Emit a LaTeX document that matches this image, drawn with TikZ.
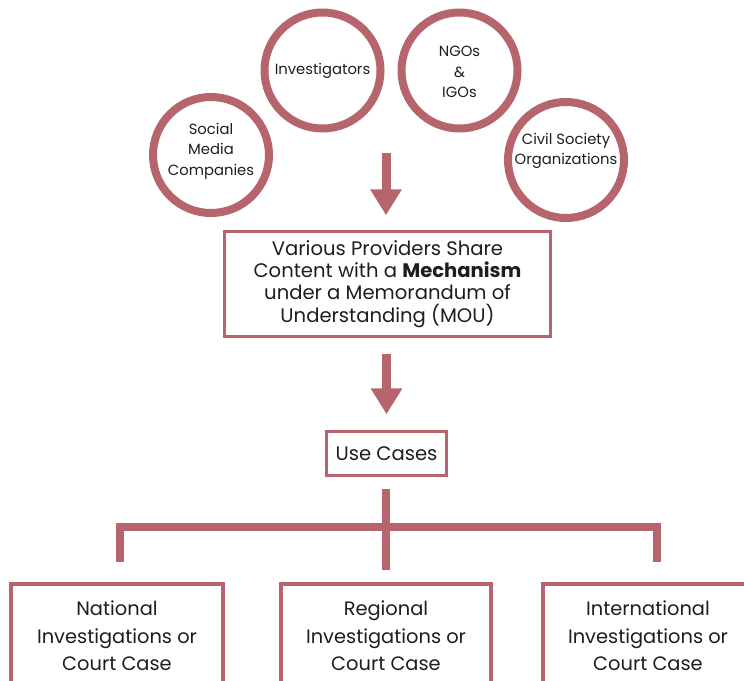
\documentclass[tikz,border=0pt]{standalone}
\usepackage{fontspec}
\setmainfont{Poppins}
\usetikzlibrary{arrows.meta}
\definecolor{rose}{RGB}{181,101,107}
\definecolor{ink}{RGB}{30,30,30}
\tikzset{
  circ/.style={circle, draw=rose, line width=8pt, fill=white, minimum size=116pt,
    inner sep=0pt, text=ink, align=center, font=\fontsize{14.8}{20.5}\selectfont},
  ctext/.style={text=ink, align=center, inner sep=0pt, font=\fontsize{14.8}{20.5}\selectfont},
  box/.style={draw=rose, line width=3.5pt, fill=white, text=ink, align=center, inner sep=0pt},
  btext/.style={font=\fontsize{19.6}{22.2}\selectfont},
  ltext/.style={font=\fontsize{19.4}{27.5}\selectfont},
  conn/.style={draw=rose, line width=8pt},
  arr/.style={draw=rose, fill=rose, line width=9pt, -{Triangle[width=30pt,length=26pt]}}
}
\begin{document}
\begin{tikzpicture}[x=1pt,y=-1pt]
\useasboundingbox (0,0) rectangle (744,680);
\clip (0,0) rectangle (744,680);
% source circles
\node[circ] (sm) at (211,155) {};
\node[ctext] (smt) at (211,151) {Social\\Media\\Companies};
\node[circ] (inv) at (322.5,70.5) {Investigators};
\node[circ] (ngo) at (459.5,70.5) {};
\node[ctext] (ngot) at (459.5,72) {NGOs\\\&\\IGOs};
\node[circ] (cso) at (566,160) {};
\node[ctext] (csot) at (566,151) {Civil Society\\Organizations};
% mechanism box
\node[box, btext, minimum width=326pt, minimum height=105pt] (mech) at (387.5,284)
  {Various Providers Share\\Content with a \textbf{Mechanism}\\under a Memorandum of\\Understanding (MOU)};
% use cases
\node[box, btext, minimum width=120pt, minimum height=44pt] (uc) at (386.5,453.5) {Use Cases};
% bottom boxes
\node[box, ltext, line width=4pt, minimum width=212pt, minimum height=104pt] (nat) at (117,636)
  {National\\Investigations or\\Court Case};
\node[box, ltext, line width=4pt, minimum width=210pt, minimum height=104pt] (reg) at (386,636)
  {Regional\\Investigations or\\Court Case};
\node[box, ltext, line width=4pt, minimum width=210pt, minimum height=104pt] (intl) at (648,636)
  {International\\Investigations or\\Court Case};
% arrows
\coordinate (a1top) at (386,153);
\draw[arr, shorten >=14.5pt] (a1top) -- (a1top |- mech.north);
\draw[arr, shorten <=15.5pt, shorten >=15.5pt] (mech.south -| uc.north) -- (uc.north);
% tree connector
\draw[conn, shorten <=11.5pt, shorten >=12pt] (uc.south -| reg.north) -- (reg.north);
\coordinate (bl) at (120,562);
\coordinate (br) at (657,562);
\draw[conn, line join=miter] (bl) -- (120,527) -- (657,527) -- (br);
\end{tikzpicture}
\end{document}
